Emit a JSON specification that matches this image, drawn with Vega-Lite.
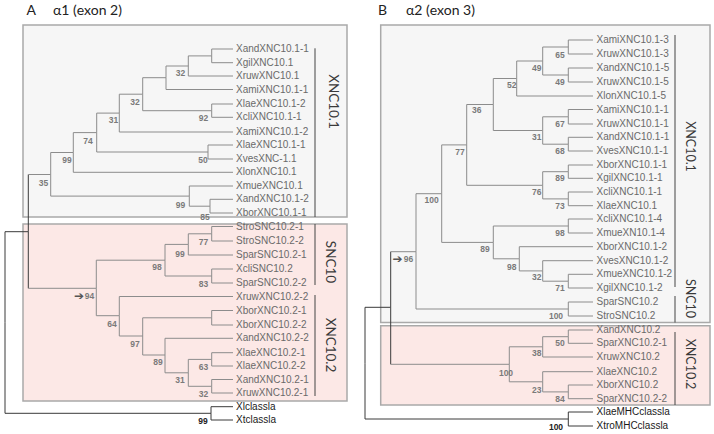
{
  "$schema": "https://vega.github.io/schema/vega-lite/v6.json",
  "width": 714,
  "height": 434,
  "padding": 0,
  "autosize": {"type": "fit", "contains": "padding"},
  "background": "white",
  "config": {"view": {"stroke": null}},
  "datasets": {
    "boxes": [
      {"x": 23, "x2": 347, "y": 25, "y2": 217, "shade": "gray"},
      {"x": 23, "x2": 347, "y": 224, "y2": 401, "shade": "pink"},
      {"x": 380.7, "x2": 710, "y": 25, "y2": 322.5, "shade": "gray"},
      {"x": 380.7, "x2": 710, "y": 325.7, "y2": 405, "shade": "pink"}
    ],
    "bars": [
      {"x": 315, "y": 48.3, "y2": 217},
      {"x": 315, "y": 224, "y2": 285},
      {"x": 315, "y": 295, "y2": 396},
      {"x": 675, "y": 35, "y2": 287},
      {"x": 675, "y": 296, "y2": 322.5},
      {"x": 675, "y": 332, "y2": 405}
    ],
    "edges": [
      {"px": 5, "py": 322.4, "cx": 28.3, "cy": 231.7, "v": "d", "h": "d"},
      {"px": 5, "py": 322.4, "cx": 211, "cy": 413.3, "v": "d", "h": "d"},
      {"px": 28.3, "py": 231.7, "cx": 50.7, "cy": 174.5, "v": "d", "h": "g"},
      {"px": 28.3, "py": 231.7, "cx": 96.3, "cy": 288.3, "v": "d", "h": "g"},
      {"px": 50.7, "py": 174.5, "cx": 73.3, "cy": 152.5, "v": "g", "h": "g"},
      {"px": 50.7, "py": 174.5, "cx": 189.3, "cy": 196.1, "v": "g", "h": "g"},
      {"px": 73.3, "py": 152.5, "cx": 96.7, "cy": 132.6, "v": "g", "h": "g"},
      {"px": 73.3, "py": 152.5, "cx": 233, "cy": 172.3, "v": "g", "h": "g"},
      {"px": 96.7, "py": 132.6, "cx": 119.3, "cy": 113.1, "v": "g", "h": "g"},
      {"px": 96.7, "py": 132.6, "cx": 208, "cy": 152, "v": "g", "h": "g"},
      {"px": 119.3, "py": 113.1, "cx": 142.7, "cy": 94.2, "v": "g", "h": "g"},
      {"px": 119.3, "py": 113.1, "cx": 233, "cy": 132, "v": "g", "h": "g"},
      {"px": 142.7, "py": 94.2, "cx": 166, "cy": 77.7, "v": "g", "h": "g"},
      {"px": 142.7, "py": 94.2, "cx": 211.7, "cy": 110.7, "v": "g", "h": "g"},
      {"px": 166, "py": 77.7, "cx": 188.3, "cy": 66, "v": "g", "h": "g"},
      {"px": 166, "py": 77.7, "cx": 233, "cy": 89.5, "v": "g", "h": "g"},
      {"px": 188.3, "py": 66, "cx": 211.7, "cy": 55.9, "v": "g", "h": "g"},
      {"px": 188.3, "py": 66, "cx": 233, "cy": 76, "v": "g", "h": "g"},
      {"px": 211.7, "py": 55.9, "cx": 233, "cy": 49, "v": "g", "h": "g"},
      {"px": 211.7, "py": 55.9, "cx": 233, "cy": 62.7, "v": "g", "h": "g"},
      {"px": 211.7, "py": 110.7, "cx": 233, "cy": 104, "v": "g", "h": "g"},
      {"px": 211.7, "py": 110.7, "cx": 233, "cy": 117.3, "v": "g", "h": "g"},
      {"px": 208, "py": 152, "cx": 233, "cy": 145, "v": "g", "h": "g"},
      {"px": 208, "py": 152, "cx": 233, "cy": 159, "v": "g", "h": "g"},
      {"px": 189.3, "py": 196.1, "cx": 233, "cy": 186, "v": "g", "h": "g"},
      {"px": 189.3, "py": 196.1, "cx": 210, "cy": 206.2, "v": "g", "h": "g"},
      {"px": 210, "py": 206.2, "cx": 233, "cy": 199.3, "v": "g", "h": "g"},
      {"px": 210, "py": 206.2, "cx": 233, "cy": 213, "v": "g", "h": "g"},
      {"px": 96.3, "py": 288.3, "cx": 165, "cy": 260.2, "v": "g", "h": "g"},
      {"px": 96.3, "py": 288.3, "cx": 119.3, "cy": 315.7, "v": "g", "h": "g"},
      {"px": 165, "py": 260.2, "cx": 188.3, "cy": 244.4, "v": "g", "h": "g"},
      {"px": 165, "py": 260.2, "cx": 211.7, "cy": 276, "v": "g", "h": "g"},
      {"px": 188.3, "py": 244.4, "cx": 211.7, "cy": 233.8, "v": "g", "h": "g"},
      {"px": 188.3, "py": 244.4, "cx": 233, "cy": 255, "v": "g", "h": "g"},
      {"px": 211.7, "py": 233.8, "cx": 233, "cy": 226.5, "v": "g", "h": "g"},
      {"px": 211.7, "py": 233.8, "cx": 233, "cy": 241, "v": "g", "h": "g"},
      {"px": 211.7, "py": 276, "cx": 233, "cy": 269, "v": "g", "h": "g"},
      {"px": 211.7, "py": 276, "cx": 233, "cy": 283, "v": "g", "h": "g"},
      {"px": 119.3, "py": 315.7, "cx": 233, "cy": 296.5, "v": "g", "h": "g"},
      {"px": 119.3, "py": 315.7, "cx": 142.7, "cy": 336, "v": "g", "h": "g"},
      {"px": 142.7, "py": 336, "cx": 211.7, "cy": 317.8, "v": "g", "h": "g"},
      {"px": 142.7, "py": 336, "cx": 165, "cy": 355, "v": "g", "h": "g"},
      {"px": 211.7, "py": 317.8, "cx": 233, "cy": 310.5, "v": "g", "h": "g"},
      {"px": 211.7, "py": 317.8, "cx": 233, "cy": 325, "v": "g", "h": "g"},
      {"px": 165, "py": 355, "cx": 233, "cy": 338.3, "v": "g", "h": "g"},
      {"px": 165, "py": 355, "cx": 188.3, "cy": 372.8, "v": "g", "h": "g"},
      {"px": 188.3, "py": 372.8, "cx": 211.7, "cy": 359.4, "v": "g", "h": "g"},
      {"px": 188.3, "py": 372.8, "cx": 211.7, "cy": 386.3, "v": "g", "h": "g"},
      {"px": 211.7, "py": 359.4, "cx": 233, "cy": 352.7, "v": "g", "h": "g"},
      {"px": 211.7, "py": 359.4, "cx": 233, "cy": 366, "v": "g", "h": "g"},
      {"px": 211.7, "py": 386.3, "cx": 233, "cy": 379.5, "v": "g", "h": "g"},
      {"px": 211.7, "py": 386.3, "cx": 233, "cy": 393, "v": "g", "h": "g"},
      {"px": 211, "py": 413.3, "cx": 233, "cy": 406.7, "v": "d", "h": "d"},
      {"px": 211, "py": 413.3, "cx": 233, "cy": 420, "v": "d", "h": "d"},

      {"px": 365, "py": 363.4, "cx": 390.7, "cy": 307.3, "v": "d", "h": "d"},
      {"px": 365, "py": 363.4, "cx": 568.3, "cy": 419, "v": "d", "h": "d"},
      {"px": 390.7, "py": 307.3, "cx": 416, "cy": 251.7, "v": "d", "h": "g"},
      {"px": 390.7, "py": 307.3, "cx": 509.3, "cy": 364.3, "v": "d", "h": "g"},
      {"px": 416, "py": 251.7, "cx": 441.7, "cy": 193.7, "v": "g", "h": "g"},
      {"px": 416, "py": 251.7, "cx": 568.3, "cy": 309, "v": "g", "h": "g"},
      {"px": 441.7, "py": 193.7, "cx": 466.7, "cy": 144.9, "v": "g", "h": "g"},
      {"px": 441.7, "py": 193.7, "cx": 493.3, "cy": 242.4, "v": "g", "h": "g"},
      {"px": 466.7, "py": 144.9, "cx": 493.3, "cy": 104.5, "v": "g", "h": "g"},
      {"px": 466.7, "py": 144.9, "cx": 542.7, "cy": 185.3, "v": "g", "h": "g"},
      {"px": 493.3, "py": 104.5, "cx": 516.7, "cy": 78.5, "v": "g", "h": "g"},
      {"px": 493.3, "py": 104.5, "cx": 542.7, "cy": 130.5, "v": "g", "h": "g"},
      {"px": 516.7, "py": 78.5, "cx": 542.7, "cy": 61, "v": "g", "h": "g"},
      {"px": 516.7, "py": 78.5, "cx": 593, "cy": 96, "v": "g", "h": "g"},
      {"px": 542.7, "py": 61, "cx": 568.3, "cy": 47, "v": "g", "h": "g"},
      {"px": 542.7, "py": 61, "cx": 568.3, "cy": 75, "v": "g", "h": "g"},
      {"px": 568.3, "py": 47, "cx": 593, "cy": 40, "v": "g", "h": "g"},
      {"px": 568.3, "py": 47, "cx": 593, "cy": 54, "v": "g", "h": "g"},
      {"px": 568.3, "py": 75, "cx": 593, "cy": 68, "v": "g", "h": "g"},
      {"px": 568.3, "py": 75, "cx": 593, "cy": 82, "v": "g", "h": "g"},
      {"px": 542.7, "py": 130.5, "cx": 568.3, "cy": 116.8, "v": "g", "h": "g"},
      {"px": 542.7, "py": 130.5, "cx": 568.3, "cy": 144.2, "v": "g", "h": "g"},
      {"px": 568.3, "py": 116.8, "cx": 593, "cy": 109.5, "v": "g", "h": "g"},
      {"px": 568.3, "py": 116.8, "cx": 593, "cy": 124, "v": "g", "h": "g"},
      {"px": 568.3, "py": 144.2, "cx": 593, "cy": 137.3, "v": "g", "h": "g"},
      {"px": 568.3, "py": 144.2, "cx": 593, "cy": 151, "v": "g", "h": "g"},
      {"px": 542.7, "py": 185.3, "cx": 568.3, "cy": 171.7, "v": "g", "h": "g"},
      {"px": 542.7, "py": 185.3, "cx": 568.3, "cy": 198.9, "v": "g", "h": "g"},
      {"px": 568.3, "py": 171.7, "cx": 593, "cy": 165, "v": "g", "h": "g"},
      {"px": 568.3, "py": 171.7, "cx": 593, "cy": 178.3, "v": "g", "h": "g"},
      {"px": 568.3, "py": 198.9, "cx": 593, "cy": 192, "v": "g", "h": "g"},
      {"px": 568.3, "py": 198.9, "cx": 593, "cy": 205.7, "v": "g", "h": "g"},
      {"px": 493.3, "py": 242.4, "cx": 568.3, "cy": 226, "v": "g", "h": "g"},
      {"px": 493.3, "py": 242.4, "cx": 519.3, "cy": 258.8, "v": "g", "h": "g"},
      {"px": 568.3, "py": 226, "cx": 593, "cy": 219, "v": "g", "h": "g"},
      {"px": 568.3, "py": 226, "cx": 593, "cy": 233, "v": "g", "h": "g"},
      {"px": 519.3, "py": 258.8, "cx": 593, "cy": 246.7, "v": "g", "h": "g"},
      {"px": 519.3, "py": 258.8, "cx": 542.7, "cy": 270.9, "v": "g", "h": "g"},
      {"px": 542.7, "py": 270.9, "cx": 593, "cy": 260.7, "v": "g", "h": "g"},
      {"px": 542.7, "py": 270.9, "cx": 568.3, "cy": 281.2, "v": "g", "h": "g"},
      {"px": 568.3, "py": 281.2, "cx": 593, "cy": 274.3, "v": "g", "h": "g"},
      {"px": 568.3, "py": 281.2, "cx": 593, "cy": 288, "v": "g", "h": "g"},
      {"px": 568.3, "py": 309, "cx": 593, "cy": 302, "v": "g", "h": "g"},
      {"px": 568.3, "py": 309, "cx": 593, "cy": 316, "v": "g", "h": "g"},
      {"px": 509.3, "py": 364.3, "cx": 542.7, "cy": 346.8, "v": "g", "h": "g"},
      {"px": 509.3, "py": 364.3, "cx": 542.7, "cy": 381.8, "v": "g", "h": "g"},
      {"px": 542.7, "py": 346.8, "cx": 568.3, "cy": 336.7, "v": "g", "h": "g"},
      {"px": 542.7, "py": 346.8, "cx": 593, "cy": 357, "v": "g", "h": "g"},
      {"px": 568.3, "py": 336.7, "cx": 593, "cy": 330, "v": "g", "h": "g"},
      {"px": 568.3, "py": 336.7, "cx": 593, "cy": 343.3, "v": "g", "h": "g"},
      {"px": 542.7, "py": 381.8, "cx": 593, "cy": 371.7, "v": "g", "h": "g"},
      {"px": 542.7, "py": 381.8, "cx": 568.3, "cy": 391.9, "v": "g", "h": "g"},
      {"px": 568.3, "py": 391.9, "cx": 593, "cy": 385, "v": "g", "h": "g"},
      {"px": 568.3, "py": 391.9, "cx": 593, "cy": 398.7, "v": "g", "h": "g"},
      {"px": 568.3, "py": 419, "cx": 593, "cy": 412, "v": "d", "h": "d"},
      {"px": 568.3, "py": 419, "cx": 593, "cy": 426, "v": "d", "h": "d"}
    ],
    "leaves": [
      {"x": 236, "y": 49, "label": "XandXNC10.1-1", "tone": "g"},
      {"x": 236, "y": 62.7, "label": "XgilXNC10.1", "tone": "g"},
      {"x": 236, "y": 76, "label": "XruwXNC10.1", "tone": "g"},
      {"x": 236, "y": 89.5, "label": "XamiXNC10.1-1", "tone": "g"},
      {"x": 236, "y": 104, "label": "XlaeXNC10.1-2", "tone": "g"},
      {"x": 236, "y": 117.3, "label": "XcliXNC10.1-1", "tone": "g"},
      {"x": 236, "y": 132, "label": "XamiXNC10.1-2", "tone": "g"},
      {"x": 236, "y": 145, "label": "XlaeXNC10.1-1", "tone": "g"},
      {"x": 236, "y": 159, "label": "XvesXNC-1.1", "tone": "g"},
      {"x": 236, "y": 172.3, "label": "XlonXNC10.1", "tone": "g"},
      {"x": 236, "y": 186, "label": "XmueXNC10.1", "tone": "g"},
      {"x": 236, "y": 199.3, "label": "XandXNC10.1-2", "tone": "g"},
      {"x": 236, "y": 213, "label": "XborXNC10.1-1", "tone": "g"},
      {"x": 236, "y": 226.5, "label": "StroSNC10.2-1", "tone": "g"},
      {"x": 236, "y": 241, "label": "StroSNC10.2-2", "tone": "g"},
      {"x": 236, "y": 255, "label": "SparSNC10.2-1", "tone": "g"},
      {"x": 236, "y": 269, "label": "XcliSNC10.2", "tone": "g"},
      {"x": 236, "y": 283, "label": "SparSNC10.2-2", "tone": "g"},
      {"x": 236, "y": 296.5, "label": "XruwXNC10.2-2", "tone": "g"},
      {"x": 236, "y": 310.5, "label": "XborXNC10.2-1", "tone": "g"},
      {"x": 236, "y": 325, "label": "XborXNC10.2-2", "tone": "g"},
      {"x": 236, "y": 338.3, "label": "XandXNC10.2-2", "tone": "g"},
      {"x": 236, "y": 352.7, "label": "XlaeXNC10.2-1", "tone": "g"},
      {"x": 236, "y": 366, "label": "XlaeXNC10.2-2", "tone": "g"},
      {"x": 236, "y": 379.5, "label": "XandXNC10.2-1", "tone": "g"},
      {"x": 236, "y": 393, "label": "XruwXNC10.2-1", "tone": "g"},
      {"x": 236, "y": 406.7, "label": "Xlclassla", "tone": "d"},
      {"x": 236, "y": 420, "label": "Xtclassla", "tone": "d"},
      {"x": 596.5, "y": 40, "label": "XamiXNC10.1-3", "tone": "g"},
      {"x": 596.5, "y": 54, "label": "XruwXNC10.1-3", "tone": "g"},
      {"x": 596.5, "y": 68, "label": "XandXNC10.1-5", "tone": "g"},
      {"x": 596.5, "y": 82, "label": "XruwXNC10.1-5", "tone": "g"},
      {"x": 596.5, "y": 96, "label": "XlonXNC10.1-5", "tone": "g"},
      {"x": 596.5, "y": 109.5, "label": "XamiXNC10.1-1", "tone": "g"},
      {"x": 596.5, "y": 124, "label": "XruwXNC10.1-1", "tone": "g"},
      {"x": 596.5, "y": 137.3, "label": "XandXNC10.1-1", "tone": "g"},
      {"x": 596.5, "y": 151, "label": "XvesXNC10.1-1", "tone": "g"},
      {"x": 596.5, "y": 165, "label": "XborXNC10.1-1", "tone": "g"},
      {"x": 596.5, "y": 178.3, "label": "XgilXNC10.1-1", "tone": "g"},
      {"x": 596.5, "y": 192, "label": "XcliXNC10.1-1", "tone": "g"},
      {"x": 596.5, "y": 205.7, "label": "XlaeXNC10.1", "tone": "g"},
      {"x": 596.5, "y": 219, "label": "XcliXNC10.1-4", "tone": "g"},
      {"x": 596.5, "y": 233, "label": "XmueXN10.1-4", "tone": "g"},
      {"x": 596.5, "y": 246.7, "label": "XborXNC10.1-2", "tone": "g"},
      {"x": 596.5, "y": 260.7, "label": "XvesXNC10.1-2", "tone": "g"},
      {"x": 596.5, "y": 274.3, "label": "XmueXNC10.1-2", "tone": "g"},
      {"x": 596.5, "y": 288, "label": "XgilXNC10.1-2", "tone": "g"},
      {"x": 596.5, "y": 302, "label": "SparSNC10.2", "tone": "g"},
      {"x": 596.5, "y": 316, "label": "StroSNC10.2", "tone": "g"},
      {"x": 596.5, "y": 330, "label": "XandXNC10.2", "tone": "g"},
      {"x": 596.5, "y": 343.3, "label": "SparXNC10.2-1", "tone": "g"},
      {"x": 596.5, "y": 357, "label": "XruwXNC10.2", "tone": "g"},
      {"x": 596.5, "y": 371.7, "label": "XlaeXNC10.2", "tone": "g"},
      {"x": 596.5, "y": 385, "label": "XborXNC10.2", "tone": "g"},
      {"x": 596.5, "y": 398.7, "label": "SparXNC10.2-2", "tone": "g"},
      {"x": 596.5, "y": 412, "label": "XlaeMHCclassla", "tone": "d"},
      {"x": 596.5, "y": 426, "label": "XtroMHCclassla", "tone": "d"}
    ],
    "boot": [
      {"x": 180.5, "y": 73, "label": "32", "tone": "g"},
      {"x": 135, "y": 101.5, "label": "32", "tone": "g"},
      {"x": 203.5, "y": 118, "label": "92", "tone": "g"},
      {"x": 113.5, "y": 120, "label": "31", "tone": "g"},
      {"x": 88, "y": 140.5, "label": "74", "tone": "g"},
      {"x": 67, "y": 160, "label": "99", "tone": "g"},
      {"x": 203, "y": 160, "label": "50", "tone": "g"},
      {"x": 43.5, "y": 182.5, "label": "35", "tone": "g"},
      {"x": 180.5, "y": 204.5, "label": "99", "tone": "g"},
      {"x": 205, "y": 217, "label": "85", "tone": "g"},
      {"x": 203.5, "y": 241.5, "label": "77", "tone": "g"},
      {"x": 180, "y": 254, "label": "99", "tone": "g"},
      {"x": 157, "y": 266.5, "label": "98", "tone": "g"},
      {"x": 203.5, "y": 283.5, "label": "83", "tone": "g"},
      {"x": 89.5, "y": 296, "label": "94", "tone": "g"},
      {"x": 112, "y": 323.5, "label": "64", "tone": "g"},
      {"x": 135, "y": 343.5, "label": "97", "tone": "g"},
      {"x": 158, "y": 362, "label": "89", "tone": "g"},
      {"x": 203.5, "y": 366.5, "label": "63", "tone": "g"},
      {"x": 180, "y": 380, "label": "31", "tone": "g"},
      {"x": 203.5, "y": 393.5, "label": "32", "tone": "g"},
      {"x": 203, "y": 420.5, "label": "99", "tone": "d"},
      {"x": 560, "y": 54.5, "label": "65", "tone": "g"},
      {"x": 536.7, "y": 68.3, "label": "49", "tone": "g"},
      {"x": 560, "y": 82, "label": "49", "tone": "g"},
      {"x": 511.7, "y": 85, "label": "52", "tone": "g"},
      {"x": 476.7, "y": 110, "label": "36", "tone": "g"},
      {"x": 560, "y": 124, "label": "67", "tone": "g"},
      {"x": 536.7, "y": 137, "label": "31", "tone": "g"},
      {"x": 560, "y": 151, "label": "68", "tone": "g"},
      {"x": 460, "y": 151.7, "label": "77", "tone": "g"},
      {"x": 560, "y": 178.3, "label": "89", "tone": "g"},
      {"x": 431.7, "y": 200, "label": "100", "tone": "g"},
      {"x": 536.7, "y": 191.7, "label": "76", "tone": "g"},
      {"x": 560, "y": 205.7, "label": "73", "tone": "g"},
      {"x": 560, "y": 233, "label": "98", "tone": "g"},
      {"x": 485, "y": 249.3, "label": "89", "tone": "g"},
      {"x": 408.5, "y": 258.5, "label": "96", "tone": "g"},
      {"x": 511.7, "y": 266.7, "label": "98", "tone": "g"},
      {"x": 536.7, "y": 276.7, "label": "32", "tone": "g"},
      {"x": 560, "y": 288.3, "label": "71", "tone": "g"},
      {"x": 556, "y": 316, "label": "100", "tone": "g"},
      {"x": 560, "y": 343.3, "label": "50", "tone": "g"},
      {"x": 536.7, "y": 353.3, "label": "38", "tone": "g"},
      {"x": 506, "y": 373.3, "label": "100", "tone": "g"},
      {"x": 536.7, "y": 390, "label": "23", "tone": "g"},
      {"x": 560, "y": 399, "label": "84", "tone": "g"},
      {"x": 556, "y": 426.5, "label": "100", "tone": "d"}
    ],
    "arrows": [
      {"x": 79, "y": 296, "label": "➔"},
      {"x": 397.5, "y": 258.5, "label": "➔"}
    ],
    "clades": [
      {"x": 332.5, "y": 101.5, "label": "XNC10.1", "panel": "A"},
      {"x": 330, "y": 262, "label": "SNC10", "panel": "A"},
      {"x": 330, "y": 345, "label": "XNC10.2", "panel": "A"},
      {"x": 690, "y": 146.5, "label": "XNC10.1", "panel": "B"},
      {"x": 690, "y": 298.5, "label": "SNC10", "panel": "B"},
      {"x": 690, "y": 364, "label": "XNC10.2", "panel": "B"}
    ],
    "titles": [
      {"x": 26.5, "y": 10.5, "label": "A"},
      {"x": 53, "y": 10.5, "label": "α1 (exon 2)"},
      {"x": 378, "y": 10.5, "label": "B"},
      {"x": 406, "y": 10.5, "label": "α2 (exon 3)"}
    ]
  },
  "layer": [
    {
      "data": {"name": "boxes"},
      "mark": {"type": "rect", "stroke": "#a9a9a9", "strokeWidth": 1.5},
      "encoding": {
        "x": {"field": "x", "type": "quantitative", "scale": {"domain": [0, 714], "nice": false, "zero": false}, "axis": null},
        "x2": {"field": "x2"},
        "y": {"field": "y", "type": "quantitative", "scale": {"domain": [0, 434], "nice": false, "zero": false, "reverse": true}, "axis": null},
        "y2": {"field": "y2"},
        "fill": {"field": "shade", "type": "nominal", "scale": {"domain": ["gray", "pink"], "range": ["#f6f6f6", "#fce8e6"]}, "legend": null}
      }
    },
    {
      "data": {"name": "bars"},
      "mark": {"type": "rule", "color": "#444444", "strokeWidth": 1},
      "encoding": {
        "x": {"field": "x", "type": "quantitative", "scale": {"domain": [0, 714], "nice": false, "zero": false}, "axis": null},
        "y": {"field": "y", "type": "quantitative", "scale": {"domain": [0, 434], "nice": false, "zero": false, "reverse": true}, "axis": null},
        "y2": {"field": "y2"}
      }
    },
    {
      "data": {"name": "edges"},
      "mark": {"type": "rule", "strokeWidth": 1},
      "encoding": {
        "x": {"field": "px", "type": "quantitative", "scale": {"domain": [0, 714], "nice": false, "zero": false}, "axis": null},
        "y": {"field": "py", "type": "quantitative", "scale": {"domain": [0, 434], "nice": false, "zero": false, "reverse": true}, "axis": null},
        "y2": {"field": "cy"},
        "color": {"field": "v", "type": "nominal", "scale": {"domain": ["g", "d"], "range": ["#8c8c8c", "#3a3a3a"]}, "legend": null}
      }
    },
    {
      "data": {"name": "edges"},
      "mark": {"type": "rule", "strokeWidth": 1},
      "encoding": {
        "x": {"field": "px", "type": "quantitative", "scale": {"domain": [0, 714], "nice": false, "zero": false}, "axis": null},
        "x2": {"field": "cx"},
        "y": {"field": "cy", "type": "quantitative", "scale": {"domain": [0, 434], "nice": false, "zero": false, "reverse": true}, "axis": null},
        "color": {"field": "h", "type": "nominal", "scale": {"domain": ["g", "d"], "range": ["#8c8c8c", "#3a3a3a"]}, "legend": null}
      }
    },
    {
      "data": {"name": "leaves"},
      "transform": [{"filter": "datum.tone == 'g'"}],
      "mark": {"type": "text", "align": "left", "baseline": "middle", "font": "Liberation Sans", "fontSize": 10, "fill": "#6a6a6a"},
      "encoding": {
        "x": {"field": "x", "type": "quantitative", "scale": {"domain": [0, 714], "nice": false, "zero": false}, "axis": null},
        "y": {"field": "y", "type": "quantitative", "scale": {"domain": [0, 434], "nice": false, "zero": false, "reverse": true}, "axis": null},
        "text": {"field": "label"}
      }
    },
    {
      "data": {"name": "leaves"},
      "transform": [{"filter": "datum.tone == 'd'"}],
      "mark": {"type": "text", "align": "left", "baseline": "middle", "font": "Liberation Sans", "fontSize": 10, "fill": "#1a1a1a"},
      "encoding": {
        "x": {"field": "x", "type": "quantitative", "scale": {"domain": [0, 714], "nice": false, "zero": false}, "axis": null},
        "y": {"field": "y", "type": "quantitative", "scale": {"domain": [0, 434], "nice": false, "zero": false, "reverse": true}, "axis": null},
        "text": {"field": "label"}
      }
    },
    {
      "data": {"name": "boot"},
      "transform": [{"filter": "datum.tone == 'g'"}],
      "mark": {"type": "text", "align": "center", "baseline": "middle", "font": "Liberation Sans", "fontSize": 8.5, "fontWeight": "bold", "fill": "#7a7a7a"},
      "encoding": {
        "x": {"field": "x", "type": "quantitative", "scale": {"domain": [0, 714], "nice": false, "zero": false}, "axis": null},
        "y": {"field": "y", "type": "quantitative", "scale": {"domain": [0, 434], "nice": false, "zero": false, "reverse": true}, "axis": null},
        "text": {"field": "label"}
      }
    },
    {
      "data": {"name": "boot"},
      "transform": [{"filter": "datum.tone == 'd'"}],
      "mark": {"type": "text", "align": "center", "baseline": "middle", "font": "Liberation Sans", "fontSize": 8.5, "fontWeight": "bold", "fill": "#222222"},
      "encoding": {
        "x": {"field": "x", "type": "quantitative", "scale": {"domain": [0, 714], "nice": false, "zero": false}, "axis": null},
        "y": {"field": "y", "type": "quantitative", "scale": {"domain": [0, 434], "nice": false, "zero": false, "reverse": true}, "axis": null},
        "text": {"field": "label"}
      }
    },
    {
      "data": {"name": "arrows"},
      "mark": {"type": "text", "align": "center", "baseline": "middle", "font": "DejaVu Sans", "fontSize": 12, "fill": "#555555"},
      "encoding": {
        "x": {"field": "x", "type": "quantitative", "scale": {"domain": [0, 714], "nice": false, "zero": false}, "axis": null},
        "y": {"field": "y", "type": "quantitative", "scale": {"domain": [0, 434], "nice": false, "zero": false, "reverse": true}, "axis": null},
        "text": {"field": "label"}
      }
    },
    {
      "data": {"name": "clades"},
      "transform": [{"filter": "datum.panel == 'A'"}],
      "mark": {"type": "text", "align": "center", "baseline": "middle", "angle": 90, "font": "Lato", "fontSize": 13.5, "fill": "#3a3a3a"},
      "encoding": {
        "x": {"field": "x", "type": "quantitative", "scale": {"domain": [0, 714], "nice": false, "zero": false}, "axis": null},
        "y": {"field": "y", "type": "quantitative", "scale": {"domain": [0, 434], "nice": false, "zero": false, "reverse": true}, "axis": null},
        "text": {"field": "label"}
      }
    },
    {
      "data": {"name": "clades"},
      "transform": [{"filter": "datum.panel == 'B'"}],
      "mark": {"type": "text", "align": "center", "baseline": "middle", "angle": 90, "font": "Lato", "fontSize": 12.5, "fill": "#3a3a3a"},
      "encoding": {
        "x": {"field": "x", "type": "quantitative", "scale": {"domain": [0, 714], "nice": false, "zero": false}, "axis": null},
        "y": {"field": "y", "type": "quantitative", "scale": {"domain": [0, 434], "nice": false, "zero": false, "reverse": true}, "axis": null},
        "text": {"field": "label"}
      }
    },
    {
      "data": {"name": "titles"},
      "mark": {"type": "text", "align": "left", "baseline": "middle", "font": "Lato", "fontSize": 14, "fill": "#222222"},
      "encoding": {
        "x": {"field": "x", "type": "quantitative", "scale": {"domain": [0, 714], "nice": false, "zero": false}, "axis": null},
        "y": {"field": "y", "type": "quantitative", "scale": {"domain": [0, 434], "nice": false, "zero": false, "reverse": true}, "axis": null},
        "text": {"field": "label"}
      }
    }
  ]
}
